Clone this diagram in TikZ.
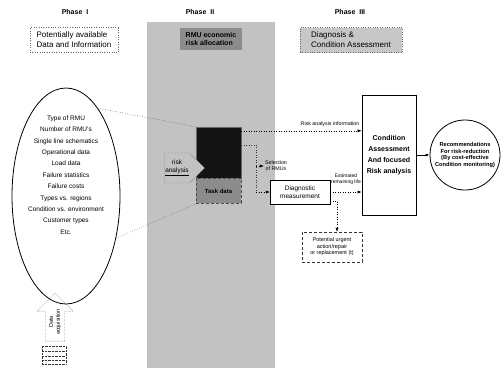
\documentclass[tikz,border=0pt]{standalone}
\usepackage{fontspec}
\setmainfont{Liberation Sans}
\usepackage{tikz}
\usetikzlibrary{positioning,shapes.geometric,shapes.arrows,shapes.symbols,arrows.meta,calc}

\begin{document}
\begin{tikzpicture}[x=1pt, y=-1pt,
    font=\fontsize{6.5}{7.5}\selectfont,
    ttl/.style  = {font=\fontsize{7}{8}\selectfont\bfseries},
    hdr/.style  = {draw=black!60, dotted, align=left, inner sep=2pt,
                   font=\fontsize{8}{10}\selectfont},
    bx/.style   = {draw=black, thick, align=center, fill=white},
    lbl/.style  = {font=\fontsize{5.3}{6}\selectfont, align=center, inner sep=1pt},
    ar/.style   = {-{Latex[length=1.4mm,width=1.1mm]}, draw=black},
    dar/.style  = {ar, dotted, line width=0.5pt},
    dln/.style  = {dotted, line width=0.5pt, draw=black!80},
    tailbox/.style = {draw=black!80, densely dotted, minimum width=24, minimum height=18,
                   path picture={\foreach \k in {0.3,0.55,0.8}
                     {\draw[black!80] ($(path picture bounding box.north west)!\k!(path picture bounding box.south west)$)
                        -- ($(path picture bounding box.north east)!\k!(path picture bounding box.south east)$);}}},
]
\useasboundingbox (0,0) rectangle (501,370);

%--- phase II background
\node[fill=black!24, minimum width=128, minimum height=346, inner sep=0] (zone) at (211,195) {};

%--- phase headings
\node[ttl] (ph1) at (75,12)  {Phase \ I};
\node[ttl] (ph2) at (200,12) {Phase \ II};
\node[ttl] (ph3) at (350,12) {Phase \ III};

\node[hdr, minimum width=88, minimum height=25] (h1) at (74,40) {Potentially available\\Data and Information};
\node[fill=black!45, align=left, minimum width=62, minimum height=22, inner sep=2pt,
      font=\fontsize{7}{8.5}\selectfont\bfseries] (h2) at (211,39) {RMU economic\\risk allocation};
\node[hdr, fill=black!22, minimum width=102, minimum height=25] (h3) at (351,40) {Diagnosis \&\\Condition Assessment};

%--- phase I: data
\node[ellipse, draw, thick, minimum width=108, minimum height=216] (data) at (66,196) {};
\node[align=center, font=\fontsize{6.5}{11.4}\selectfont] (dlist) at (66,175)
     {Type of RMU\\Number of RMU's\\Single line schematics\\Operational data\\Load data\\
      Failure statistics\\Failure costs\\Types vs. regions\\Condition vs. environment\\
      Customer types\\Etc.};

\node[single arrow, draw=black!80, densely dotted, rotate=90, minimum height=48, minimum width=36,
      single arrow head extend=6, inner sep=1pt, align=center,
      font=\fontsize{5.5}{7}\selectfont] (acq) at (55,322) {Data\\acquisition};
\node[tailbox] (acqtail) at (54,355) {};

%--- phase II: risk allocation
\node[fill=black!92, draw=black!60, minimum width=45, minimum height=51, inner sep=0] (rsk) at (218.5,152.5) {};
\node[fill=black!45, draw=black!70, densely dashed, minimum width=45, minimum height=25,
      inner sep=0, font=\fontsize{6}{7}\selectfont\bfseries, below=0pt of rsk] (task) {Task data};
\node[signal, signal to=east, draw=black!70, densely dotted, fill=black!24, minimum width=36,
      minimum height=30, inner sep=1pt, align=center] (ana) at (177,168) {risk\\\underline{analysis}};

\node[lbl] (sel) at (276,166) {Selection\\of RMUs};
\node[lbl] (ralab) at (330,124) {Risk analysis information};

%--- phase III: diagnosis
\node[bx, minimum width=60, minimum height=24, thin] (diag) at (300,192) {Diagnostic\\measurement};
\node[lbl, font=\fontsize{5}{6}\selectfont] (est) at (346,179) {Estimated\\remaining life};
\node[draw=black!80, densely dashed, minimum width=60, minimum height=30, align=center,
      font=\fontsize{5.5}{6.5}\selectfont, inner sep=1pt] (urg) at (332,247)
      {Potential urgent\\action/repair\\or replacement (t)};

\node[bx, minimum width=54, minimum height=120, font=\fontsize{7}{11}\selectfont\bfseries] (cond) at (389,155)
      {Condition\\Assessment\\And focused\\Risk analysis};
\node[circle, draw, thick, minimum size=70, inner sep=1pt, align=center,
      font=\fontsize{5.7}{6.8}\selectfont\bfseries] (reco) at (465,155)
      {Recommendations\\For risk-reduction\\(By cost-effective\\Condition monitoring)};

%--- edges
\draw[dln] (data.70) -- (rsk.north west);
\draw[dln] (data.-40) -- (task.south west);

\coordinate (raout) at ([yshift=-4pt]rsk.north east);
\draw[dar] (raout) -- (raout -| cond.west);

\coordinate (selout) at ([yshift=-18pt]rsk.north east);
\coordinate (selbend) at ([xshift=15pt]selout);
\draw[dln] (selout) -- (selbend) -- (selbend |- diag.west);
\draw[dar] (selbend |- sel.west) -- (sel.west);
\draw[dar] (selbend |- diag.west) -- (diag.west);

\draw[dar] (diag.east) -- (diag.east -| cond.west);

\coordinate (dgtail) at ([yshift=3pt]diag.south east);
\coordinate (urgin) at ([xshift=5pt]urg.north);
\draw[dar] (dgtail) -- (dgtail -| urgin) -- (urgin);

\draw[ar, thick] (cond) -- (reco);

\end{tikzpicture}
\end{document}
